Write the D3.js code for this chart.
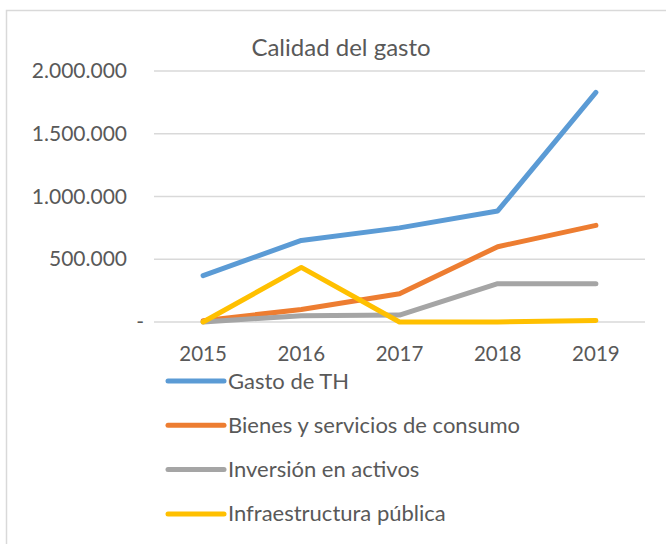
<!DOCTYPE html>
<html>
<head>
<meta charset="utf-8">
<script src="https://cdn.jsdelivr.net/npm/d3@7"></script>
<style>
    body { margin: 0; background: #fff; }
    svg { display: block; font-family: Lato, "Open Sans", sans-serif; }
</style>
</head>
<body>
<svg id="chart" width="666" height="544"></svg>
<script>
const years = ["2015", "2016", "2017", "2018", "2019"];
const gastoTH = [370000, 650000, 750000, 885000, 1830000];
const bienes = [10000, 100000, 225000, 600000, 770000];
const inversion = [0, 50000, 55000, 305000, 305000];
const infraestructura = [0, 435000, 0, 0, 12000];
const yTicks = [0, 500000, 1000000, 1500000, 2000000];

const series = [
    { name: "Gasto de TH", values: gastoTH, color: "#5b9bd5" },
    { name: "Bienes y servicios de consumo", values: bienes, color: "#ed7d31" },
    { name: "Inversión en activos", values: inversion, color: "#a5a5a5" },
    { name: "Infraestructura pública", values: infraestructura, color: "#ffc000" },
];

const svg = d3.select("#chart");

// chart area border
svg.append("rect")
    .attr("x", 6.5).attr("y", 10.5)
    .attr("width", 680).attr("height", 560)
    .attr("fill", "none")
    .attr("stroke", "#d9d9d9")
    .attr("stroke-width", 1.5);

const x = d3.scaleBand().domain(years).range([154, 645]);
const y = d3.scaleLinear().domain([0, 2000000]).range([322, 71]);

const fmt = (v) => v === 0 ? "-" : d3.format(",")(v).replace(/,/g, ".");

// gridlines
svg.append("g")
    .selectAll("line")
    .data(yTicks)
    .join("line")
    .attr("x1", 154).attr("x2", 645)
    .attr("y1", (d) => y(d)).attr("y2", (d) => y(d))
    .attr("stroke", "#d9d9d9")
    .attr("stroke-width", 1.5);

// y axis labels
const yAxis = svg.append("g")
    .attr("transform", "translate(127,0)")
    .call(d3.axisLeft(y).tickValues(yTicks).tickFormat(fmt).tickSize(0).tickPadding(0));
yAxis.select(".domain").remove();
yAxis.selectAll("text")
    .attr("font-size", 21)
    .attr("fill", "#595959")
    .attr("font-family", "Lato, sans-serif")
    .attr("dx", (d) => d === 0 ? 17 : 0);

// x axis labels
const xAxis = svg.append("g")
    .attr("transform", "translate(0,361)")
    .call(d3.axisBottom(x).tickSize(0).tickPadding(0));
xAxis.select(".domain").remove();
xAxis.selectAll("text")
    .attr("font-size", 20.5)
    .attr("fill", "#595959")
    .attr("font-family", "Lato, sans-serif")
    .attr("dy", 0);

// lines
const line = d3.line()
    .x((d, i) => x(years[i]) + x.bandwidth() / 2)
    .y((d) => y(d));

svg.append("g")
    .selectAll("path")
    .data(series)
    .join("path")
    .attr("d", (d) => line(d.values))
    .attr("fill", "none")
    .attr("stroke", (d) => d.color)
    .attr("stroke-width", 5)
    .attr("stroke-linecap", "round")
    .attr("stroke-linejoin", "round");

// title
svg.append("text")
    .attr("x", 341).attr("y", 56)
    .attr("text-anchor", "middle")
    .attr("font-size", 24)
    .attr("fill", "#595959")
    .text("Calidad del gasto");

// legend
const legend = svg.append("g")
    .selectAll("g")
    .data(series)
    .join("g")
    .attr("transform", (d, i) => `translate(168,${381 + i * 44.3})`);

legend.append("line")
    .attr("x1", 0).attr("x2", 56)
    .attr("stroke", (d) => d.color)
    .attr("stroke-width", 5)
    .attr("stroke-linecap", "round");

legend.append("text")
    .attr("x", 60).attr("y", 7.5)
    .attr("font-size", 22)
    .attr("fill", "#595959")
    .text((d) => d.name);
</script>
</body>
</html>
